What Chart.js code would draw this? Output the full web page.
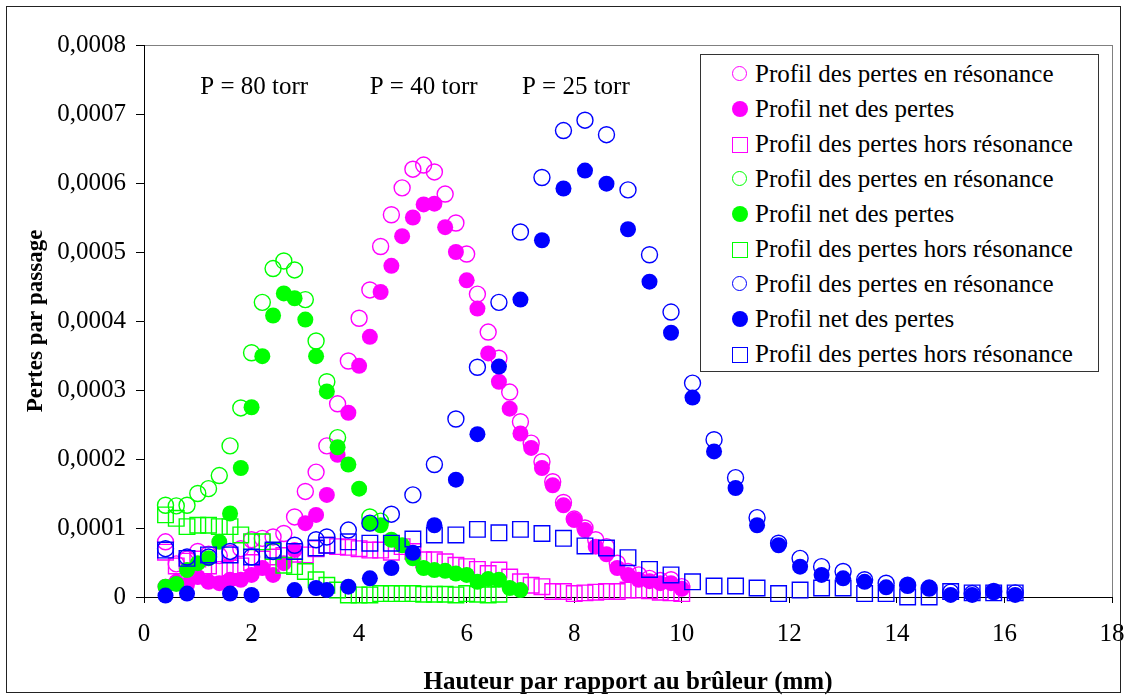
<!DOCTYPE html>
<html>
<head>
<meta charset="utf-8">
<script src="https://cdn.jsdelivr.net/npm/chart.js@4.4.1/dist/chart.umd.min.js"></script>
<style>
    body { margin: 0; background: #fff; }
    #wrap { position: relative; width: 1128px; height: 698px; }
    #frame { position: absolute; left: 6px; top: 6px; width: 1113px; height: 685px; border: 1px solid #222; pointer-events: none; }
    #legend { position: absolute; left: 700px; top: 54px; width: 397px; height: 316px; border: 1px solid #333; background: #fff;
              font-family: "Liberation Serif", "Times New Roman", serif; font-size: 25px; color: #000; }
    .row { position: absolute; left: 0; height: 35px; line-height: 35px; white-space: nowrap; }
    .mk { position: absolute; left: 31px; top: 10px; width: 13px; height: 13px; box-sizing: content-box; }
    .row span.txt { position: absolute; left: 54px; top: -1px; }
</style>
</head>
<body>
<div id="wrap">
    <canvas id="chart" width="1128" height="698"></canvas>
    <div id="frame"></div>
    <div id="legend"></div>
</div>
<script>
// values, y in units of 1e-4
const xTickLabels = ['0', '2', '4', '6', '8', '10', '12', '14', '16', '18'];
const yTickLabels = ['0', '0,0001', '0,0002', '0,0003', '0,0004', '0,0005', '0,0006', '0,0007', '0,0008'];

// P = 40 torr (magenta)
const xMagenta = [0.4, 0.6, 0.8, 1.0, 1.2, 1.4, 1.6, 1.8, 2.0, 2.2, 2.4, 2.6, 2.8, 3.0, 3.2, 3.4, 3.6, 3.8, 4.0, 4.2, 4.4, 4.6, 4.8, 5.0, 5.2,
    5.4, 5.6, 5.8, 6.0, 6.2, 6.4, 6.6, 6.8, 7.0, 7.2, 7.4, 7.6, 7.8, 8.0, 8.2, 8.4, 8.6, 8.8, 9.0, 9.2, 9.4, 9.6, 9.8, 10.0];
const magentaRes = [0.80, 0.48, 0.55, 0.66, 0.62, 0.60, 0.63, 0.70, 0.83, 0.85, 0.87, 0.92, 1.16, 1.53, 1.81, 2.19, 2.80, 3.42, 4.04, 4.45,
    5.08, 5.54, 5.93, 6.20, 6.26, 6.16, 5.84, 5.42, 4.97, 4.39, 3.84, 3.46, 2.97, 2.54, 2.23, 1.96, 1.67, 1.37, 1.13, 1.00,
    0.83, 0.73, 0.49, 0.37, 0.32, 0.27, 0.24, 0.25, 0.15];
const magentaNet = [0.15, 0.22, 0.18, 0.29, 0.22, 0.20, 0.25, 0.25, 0.32, 0.42, 0.32, 0.49, 0.68, 1.07, 1.19, 1.48, 2.06, 2.67, 3.35, 3.77,
    4.42, 4.80, 5.23, 5.50, 5.69, 5.70, 5.36, 5.00, 4.59, 4.18, 3.53, 3.12, 2.73, 2.37, 2.16, 1.87, 1.62, 1.33, 1.12, 0.97,
    0.73, 0.62, 0.42, 0.32, 0.25, 0.23, 0.20, 0.20, 0.12];
const magentaHors = [0.65, 0.45, 0.52, 0.55, 0.45, 0.40, 0.42, 0.45, 0.50, 0.55, 0.58, 0.60, 0.62, 0.61, 0.70, 0.75, 0.73, 0.72, 0.70, 0.68,
    0.68, 0.65, 0.73, 0.66, 0.54, 0.54, 0.51, 0.46, 0.44, 0.40, 0.34, 0.39, 0.29, 0.22, 0.17, 0.15, 0.08, 0.08, 0.05, 0.06,
    0.07, 0.08, 0.08, 0.10, 0.10, 0.09, 0.07, 0.06, 0.05];

// P = 80 torr (green)
const xGreenRes = [0.4, 0.6, 0.8, 1.0, 1.2, 1.4, 1.6, 1.8, 2.0, 2.2, 2.4, 2.6, 2.8, 3.0, 3.2, 3.4, 3.6, 4.2, 4.4];
const greenRes = [1.33, 1.32, 1.33, 1.50, 1.57, 1.76, 2.19, 2.74, 3.54, 4.27, 4.76, 4.87, 4.74, 4.31, 3.71, 3.12, 2.31, 1.16, 1.10];
const xGreenNet = [0.4, 0.6, 0.8, 1.0, 1.2, 1.4, 1.6, 1.8, 2.0, 2.2, 2.4, 2.6, 2.8, 3.0, 3.2, 3.4, 3.6, 3.8, 4.0, 4.2, 4.4, 4.6, 4.8,
    5.0, 5.2, 5.4, 5.6, 5.8, 6.0, 6.2, 6.4, 6.6, 6.8, 7.0];
const greenNet = [0.15, 0.19, 0.39, 0.49, 0.56, 0.80, 1.21, 1.87, 2.75, 3.49, 4.08, 4.40, 4.33, 4.02, 3.49, 2.98, 2.17, 1.92, 1.57, 1.07,
    1.04, 0.83, 0.75, 0.56, 0.42, 0.39, 0.38, 0.34, 0.32, 0.22, 0.26, 0.25, 0.13, 0.10];
const xGreenHors = [0.4, 0.6, 0.8, 1.0, 1.2, 1.4, 1.6, 1.8, 2.0, 2.2, 2.4, 2.6, 2.8, 3.0, 3.2, 3.4, 3.6, 3.8, 4.0, 4.2, 4.4, 4.6, 4.8,
    5.0, 5.2, 5.4, 5.6, 5.8, 6.0, 6.2, 6.4, 6.6];
const greenHors = [1.19, 1.14, 1.02, 1.04, 1.04, 1.02, 1.02, 0.90, 0.80, 0.80, 0.66, 0.46, 0.44, 0.37, 0.25, 0.17, 0.10, 0.03, 0.03, 0.03,
    0.05, 0.05, 0.05, 0.05, 0.04, 0.04, 0.04, 0.03, 0.05, 0.04, 0.03, 0.04];

// P = 25 torr (blue)
const xBlue = [0.4, 0.8, 1.2, 1.6, 2.0, 2.4, 2.8, 3.2, 3.4, 3.8, 4.2, 4.6, 5.0, 5.4, 5.8, 6.2, 6.6, 7.0, 7.4, 7.8, 8.2, 8.6, 9.0, 9.4,
    9.8, 10.2, 10.6, 11.0, 11.4, 11.8, 12.2, 12.6, 13.0, 13.4, 13.8, 14.2, 14.6, 15.0, 15.4, 15.8, 16.2];
const blueRes = [0.70, 0.58, 0.58, 0.66, 0.58, 0.66, 0.75, 0.83, 0.87, 0.97, 1.07, 1.20, 1.48, 1.92, 2.58, 3.33, 4.27, 5.29, 6.08, 6.76,
    6.91, 6.70, 5.90, 4.96, 4.13, 3.10, 2.28, 1.73, 1.15, 0.78, 0.56, 0.44, 0.37, 0.25, 0.20, 0.17, 0.13, 0.07, 0.05, 0.08, 0.06];
const xBlueNet = [0.4, 0.8, 1.6, 2.0, 2.8, 3.2, 3.4, 3.8, 4.2, 4.6, 5.0, 5.4, 5.8, 6.2, 6.6, 7.0, 7.4, 7.8, 8.2, 8.6, 9.0, 9.4, 9.8,
    10.2, 10.6, 11.0, 11.4, 11.8, 12.2, 12.6, 13.0, 13.4, 13.8, 14.2, 14.6, 15.0, 15.4, 15.8, 16.2];
const blueNet = [0.02, 0.05, 0.05, 0.03, 0.10, 0.13, 0.10, 0.15, 0.27, 0.42, 0.64, 1.04, 1.70, 2.36, 3.34, 4.31, 5.17, 5.92, 6.18, 5.99,
    5.33, 4.57, 3.83, 2.89, 2.11, 1.58, 1.04, 0.75, 0.44, 0.32, 0.27, 0.22, 0.14, 0.17, 0.13, 0.03, 0.03, 0.08, 0.03];
const blueHors = [0.68, 0.56, 0.61, 0.61, 0.58, 0.68, 0.66, 0.71, 0.75, 0.80, 0.78, 0.78, 0.84, 0.90, 0.90, 0.98, 0.93, 0.98, 0.92, 0.85,
    0.74, 0.71, 0.57, 0.40, 0.32, 0.22, 0.16, 0.16, 0.13, 0.05, 0.10, 0.13, 0.13, 0.05, 0.05, 0.00, 0.00, 0.08, 0.06, 0.06, 0.06];

const seriesLabels = ['Profil des pertes en résonance', 'Profil net des pertes', 'Profil des pertes hors résonance'];
const pressureNotes = [
    { text: 'P = 80 torr', x: 2.05, y: 7.38 },
    { text: 'P = 40 torr', x: 5.2, y: 7.38 },
    { text: 'P = 25 torr', x: 8.03, y: 7.38 }
];

const MAGENTA = '#ff00ff', GREEN = '#00ff00', BLUE = '#0000ff';
const SERIF = '"Liberation Serif", "Times New Roman", serif';

function pairs(xs, ys) {
    return xs.map((x, i) => ({ x: x, y: ys[i] }));
}

// kind: 0 open circle, 1 filled circle, 2 open square
function makeSet(label, color, kind, data) {
    return {
        label: label,
        data: data,
        pointStyle: kind === 2 ? 'rect' : 'circle',
        pointRadius: kind === 2 ? 11 : 8,
        pointHoverRadius: kind === 2 ? 11 : 8,
        borderColor: color,
        backgroundColor: kind === 1 ? color : 'rgba(0,0,0,0)',
        borderWidth: kind === 1 ? 0 : 1.4,
        showLine: false,
        clip: false,
        _kind: kind
    };
}

const datasets = [
    makeSet(seriesLabels[0], MAGENTA, 0, pairs(xMagenta, magentaRes)),
    makeSet(seriesLabels[1], MAGENTA, 1, pairs(xMagenta, magentaNet)),
    makeSet(seriesLabels[2], MAGENTA, 2, pairs(xMagenta, magentaHors)),
    makeSet(seriesLabels[0], GREEN, 0, pairs(xGreenRes, greenRes)),
    makeSet(seriesLabels[1], GREEN, 1, pairs(xGreenNet, greenNet)),
    makeSet(seriesLabels[2], GREEN, 2, pairs(xGreenHors, greenHors)),
    makeSet(seriesLabels[0], BLUE, 0, pairs(xBlue, blueRes)),
    makeSet(seriesLabels[1], BLUE, 1, pairs(xBlueNet, blueNet)),
    makeSet(seriesLabels[2], BLUE, 2, pairs(xBlue, blueHors))
];
// later series on top, like the spreadsheet
datasets.forEach((d, i) => { d.order = datasets.length - i; });

// grey plot frame + pressure annotations
const framePlugin = {
    id: 'framePlugin',
    beforeDraw(chart) {
        const a = chart.chartArea;
        const ctx = chart.ctx;
        ctx.save();
        ctx.strokeStyle = '#808080';
        ctx.lineWidth = 1;
        ctx.strokeRect(a.left + 0.5, a.top + 0.5, a.right - a.left, a.bottom - a.top);
        ctx.restore();
    },
    afterDatasetsDraw(chart) {
        const ctx = chart.ctx;
        const xs = chart.scales.x, ys = chart.scales.y;
        ctx.save();
        ctx.font = '25px ' + SERIF;
        ctx.fillStyle = '#000';
        ctx.textAlign = 'center';
        ctx.textBaseline = 'middle';
        pressureNotes.forEach(n => {
            ctx.fillText(n.text, xs.getPixelForValue(n.x), ys.getPixelForValue(n.y));
        });
        ctx.restore();
    }
};

const chart = new Chart(document.getElementById('chart').getContext('2d'), {
    type: 'scatter',
    data: { datasets: datasets },
    options: {
        responsive: false,
        animation: false,
        events: [],
        layout: { padding: { left: 0, right: 16, top: 45, bottom: 0 } },
        plugins: {
            legend: { display: false },
            tooltip: { enabled: false }
        },
        scales: {
            x: {
                type: 'linear',
                min: 0,
                max: 18,
                afterFit: s => { s.height = 101; s.paddingLeft = 0; s.paddingRight = 0; },
                afterBuildTicks: s => { s.ticks = xTickLabels.map(t => ({ value: Number(t) })); },
                ticks: {
                    color: '#000',
                    font: { family: SERIF, size: 25 },
                    padding: 16,
                    maxRotation: 0,
                    callback: (v, i) => xTickLabels[i]
                },
                grid: { display: true, drawOnChartArea: false, drawTicks: true, tickLength: 6, color: '#000' },
                border: { display: true, color: '#000', width: 1 },
                title: {
                    display: true,
                    text: 'Hauteur par rapport au brûleur (mm)',
                    color: '#000',
                    font: { family: SERIF, size: 25, weight: 'bold' },
                    padding: { top: 7, bottom: 0 }
                }
            },
            y: {
                type: 'linear',
                min: 0,
                max: 8,
                afterFit: s => { s.width = 144; s.paddingTop = 0; s.paddingBottom = 0; },
                afterBuildTicks: s => { s.ticks = yTickLabels.map((t, i) => ({ value: i })); },
                ticks: {
                    color: '#000',
                    font: { family: SERIF, size: 25 },
                    padding: 10,
                    callback: (v, i) => yTickLabels[i]
                },
                grid: { display: true, drawOnChartArea: false, drawTicks: true, tickLength: 8, color: '#000' },
                border: { display: true, color: '#000', width: 1 },
                title: {
                    display: true,
                    text: 'Pertes par passage',
                    color: '#000',
                    font: { family: SERIF, size: 23, weight: 'bold' },
                    padding: { top: 22, bottom: 0 }
                }
            }
        }
    },
    plugins: [framePlugin]
});

// legend box built from the datasets
const legendBox = document.getElementById('legend');
datasets.forEach((d, i) => {
    const row = document.createElement('div');
    row.className = 'row';
    row.style.top = (2 + i * 35) + 'px';
    row.style.width = '100%';
    const mk = document.createElement('div');
    mk.className = 'mk';
    if (d._kind === 2) {
        mk.style.border = '1.5px solid ' + d.borderColor;
        mk.style.width = '14px';
        mk.style.height = '14px';
    } else if (d._kind === 1) {
        mk.style.background = d.backgroundColor;
        mk.style.borderRadius = '50%';
        mk.style.width = '16px';
        mk.style.height = '16px';
        mk.style.top = '9px';
    } else {
        mk.style.border = '1.5px solid ' + d.borderColor;
        mk.style.borderRadius = '50%';
        mk.style.width = '13px';
        mk.style.height = '13px';
        mk.style.top = '9px';
    }
    const txt = document.createElement('span');
    txt.className = 'txt';
    txt.textContent = d.label;
    row.appendChild(mk);
    row.appendChild(txt);
    legendBox.appendChild(row);
});
</script>
</body>
</html>
